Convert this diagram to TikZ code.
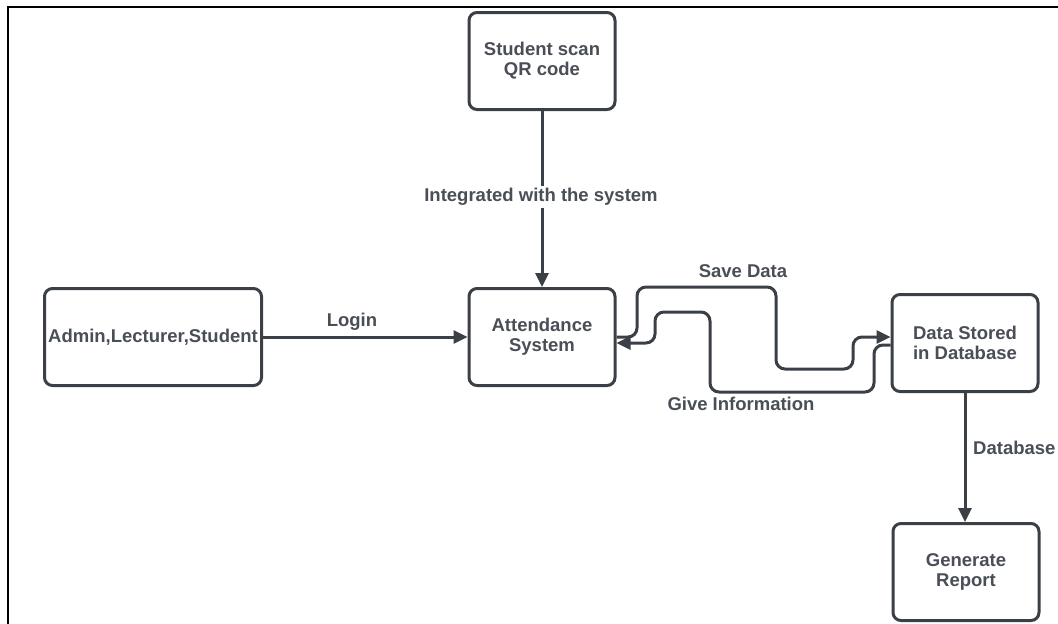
\documentclass[tikz,border=0pt]{standalone}
\usepackage{fontspec}
\setmainfont{Liberation Sans}
\usetikzlibrary{arrows.meta}
\definecolor{inkline}{HTML}{3B3F46}
\definecolor{inktext}{HTML}{4A4E56}
\begin{document}
\begin{tikzpicture}[x=1pt,y=-1pt,
  every node/.style={font=\fontsize{18.5}{20}\selectfont\bfseries, text=inktext},
  procbox/.style={draw=inkline, line width=3pt, rounded corners=8pt, fill=white,
    minimum width=146pt, minimum height=97pt, align=center, inner sep=1pt},
  flow/.style={draw=inkline, line width=3pt, rounded corners=9pt,
    -{Triangle[length=14pt,width=13pt]}},
  lbl/.style={inner sep=2pt}]
  \useasboundingbox (0,0) rectangle (1058,624);
  % outer frame (top and left edges)
  \draw[line width=2pt, black] (8,624) -- (8,7) -- (1058,7);

  % process boxes
  \node[procbox] (qr)    at (542,61)  {Student scan\\QR code};
  \node[procbox, minimum width=217pt] (admin) at (153,337) {Admin,Lecturer,Student};
  \node[procbox] (att)   at (542,337) {Attendance\\System};
  \node[procbox] (data)  at (965,343) {Data Stored\\in Database};
  \node[procbox] (gen)   at (966,572) {Generate\\Report};

  % connectors
  \draw[flow] (qr) -- (att);
  \node[lbl, fill=white] (integ) at (541,197) {Integrated with the system};

  \draw[flow] (admin.east) -- (att.west);
  \node[lbl] (login) at (352,322) {Login};

  \draw[flow] (att.east) -- (637,337) -- (637,287) -- (776,287) -- (776,369)
    -- (853,369) -- (853,337) -- (data.west |- 0,337);
  \node[lbl] (save) at (743,271) {Save Data};

  \draw[flow] (data.west |- 0,345) -- (874,345) -- (874,392) -- (710,392)
    -- (710,312) -- (655,312) -- (655,343) -- (att.east |- 0,343);
  \node[lbl] (give) at (741,404) {Give Information};

  \draw[flow] (data.south) -- (data.south |- gen.north);
  \node[lbl, anchor=west] (dblbl) at (971,448) {Database};
\end{tikzpicture}
\end{document}
